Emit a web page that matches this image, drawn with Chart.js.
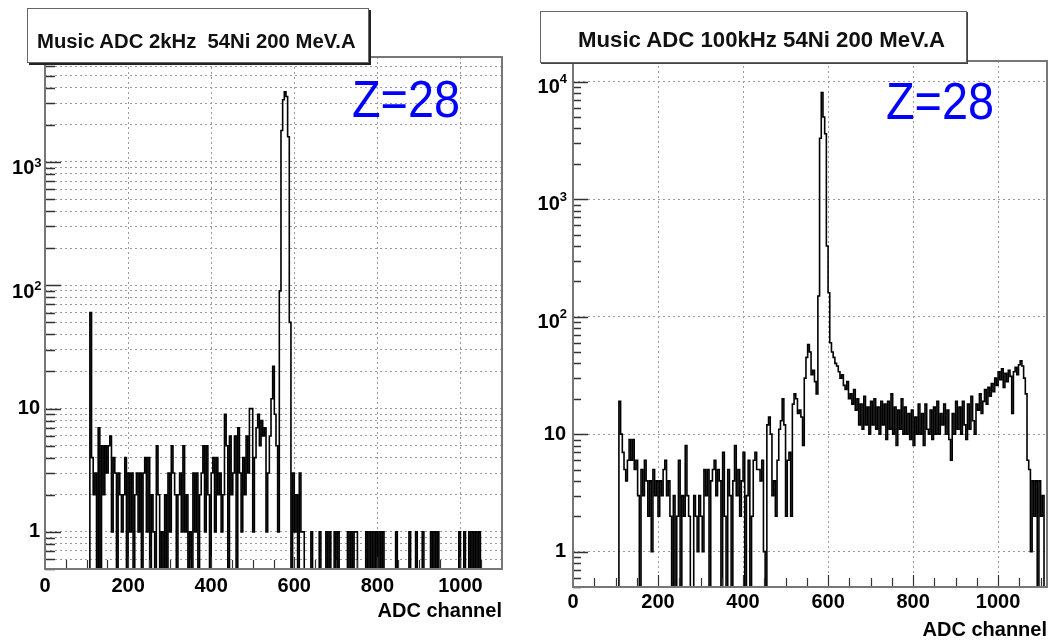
<!DOCTYPE html>
<html><head><meta charset="utf-8">
<script src="https://cdn.jsdelivr.net/npm/chart.js@4/dist/chart.umd.min.js"></script>
<style>
html,body{margin:0;padding:0;background:#fff;}
body{width:1048px;height:642px;position:relative;overflow:hidden;font-family:"Liberation Sans",Arial,Helvetica,sans-serif;}
canvas{position:absolute;top:0;}
#cL{left:0;} #cR{left:520px;}
.tbox{position:absolute;background:#fff;border:1px solid #666;box-sizing:border-box;z-index:2;}
.tbox span{position:absolute;font-weight:bold;color:#111;white-space:pre;line-height:22px;}
.z{position:absolute;color:#0000ff;font-size:52px;line-height:52px;transform-origin:0 0;transform:scaleX(0.9);z-index:2;white-space:pre;}
</style></head>
<body>
<canvas id="cL" width="520" height="642"></canvas>
<canvas id="cR" width="528" height="642"></canvas>
<div class="tbox" style="left:27px;top:8px;width:342px;height:55px;box-shadow:2px 2px 0 #222;"><span style="left:9px;top:21px;font-size:20.3px;">Music ADC 2kHz  54Ni 200 MeV.A</span></div>
<div class="tbox" style="left:540px;top:11px;width:427px;height:52px;box-shadow:1px 1px 0 #444;"><span style="left:37px;top:17px;font-size:22.2px;">Music ADC 100kHz 54Ni 200 MeV.A</span></div>
<div class="z" style="left:352px;top:73px;">Z=28</div>
<div class="z" style="left:886px;top:75px;">Z=28</div>
<script>
// ---------------- data ----------------
const BIN_WIDTH = 4;                 // ADC channels per bin
const X_TICKS = [0, 200, 400, 600, 800, 1000];
const AXIS_TITLE = 'ADC channel';

// 2 kHz spectrum: counts per 4-channel bin, starting at channel 112
const leftStart = 112;
const leftCounts = [
  60,4,2,3,0,7,0,5,2,5,          // 112-148
  3,5,6,1,4,3,0,3,2,1,           // 152-188
  2,4,0,3,1,3,0,2,3,1,           // 192-228
  3,0,3,4,1,4,0,2,1,0,           // 232-268
  5,2,0,1,0,2,0,3,1,5,           // 272-308
  3,2,0,2,3,1,5,1,2,0,           // 312-348
  1,0,3,1,3,0,2,3,5,1,           // 352-388
  5,2,0,3,4,1,4,2,3,1,           // 392-428
  2,9,5,0,6,2,3,6,0,7,           // 432-468
  3,1,4,2,6,3,10,10,1,4,         // 472-508
  7,9,5,8,6,7,1,3,6,12,          // 512-548
  22,9,5,1,90,1800,3200,3700,3400,1600, // 552-588
  50,0,3,1,2,0,3,1,1,0           // 592-628
];
// 2 kHz spectrum: isolated single-count bins above channel 640
const leftSingleCounts = [644,664,680,688,700,708,732,740,748,752,776,784,792,800,808,816,848,880,896,912,932,940,948,1000,1012,1024,1032,1040,1048];

// 100 kHz spectrum: counts per 4-channel bin, starting at channel 112
const rightStart = 112;
const rightCounts = [
  19,10,7,5,4,6,9,6,9,5,         // 112-148
  6,3,0,5,3,6,4,2,4,1,           // 152-188
  5,3,4,2,4,3,5,6,3,4,           // 192-228
  2,0,3,0,2,6,0,3,2,8,           // 232-268
  3,2,0,0,3,2,1,3,2,1,           // 272-308
  5,3,5,0,4,5,6,3,5,4,           // 312-348
  0,7,2,0,5,3,0,4,8,3,           // 352-388
  5,2,4,7,0,3,6,0,2,6,           // 392-428
  7,5,5,4,6,1,0,12,14,10,        // 432-468
  3,4,2,6,11,13,20,12,2,6,       // 472-508
  7,2,18,22,20,15,16,14,8,30,    // 512-548
  45,58,50,32,35,28,22,150,3300,8100, // 552-588
  5000,3600,400,160,60,50,45,40,38,34, // 592-628
  30,32,26,24,28,20,22,18,24,16, // 632-668
  20,12,18,11,21,12,17,10,19,12, // 672-708
  20,11,17,10,19,12,18,9,19,11,  // 712-748
  22,10,17,8,16,11,20,10,17,10,  // 752-788
  15,9,16,8,14,10,18,10,15,8,    // 792-828
  18,11,10,16,9,17,10,19,10,15,  // 832-868
  12,18,10,16,9,6,15,10,19,11,   // 872-908
  17,10,19,12,9,18,11,21,13,10,  // 912-948
  18,16,22,15,19,24,18,25,21,27, // 952-988
  23,30,26,34,29,36,25,33,28,35, // 992-1028
  31,15,34,37,32,39,42,38,30,22, // 1032-1068
  6,5,1,4,2,4,0,4,2,3,           // 1072-1108
  0                              // 1112
];

// ---------------- helpers ----------------
const FONT = '"Liberation Sans", Arial, Helvetica, sans-serif';
const GRID_COLOR = '#9a9a9a';
const ZERO_FLOOR = 0.1; // empty bins drawn below the visible range (clipped)

function buildHist(start, counts, singles, xMax) {
  const pts = [];
  for (let ch = 0; ch < xMax; ch += BIN_WIDTH) {
    let v = 0;
    const i = (ch - start) / BIN_WIDTH;
    if (i >= 0 && i < counts.length) v = counts[i];
    if (singles && singles.includes(ch)) v = 1;
    pts.push({x: ch, y: v > 0 ? v : ZERO_FLOOR});
  }
  pts.push({x: xMax, y: pts[pts.length - 1].y});
  return pts;
}
function isDecade(v) { const l = Math.log10(v); return Math.abs(l - Math.round(l)) < 1e-9; }
function logTicks(min, max) {
  const out = [];
  const lo = Math.floor(Math.log10(min)), hi = Math.ceil(Math.log10(max));
  for (let e = lo; e <= hi; e++) for (let m = 1; m <= 9; m++) {
    const v = m * Math.pow(10, e);
    if (v >= min * 0.9999 && v <= max * 1.0001) out.push(v);
  }
  return out;
}

const framePlugin = {
  id: 'frame',
  afterDatasetsDraw(chart, args, o) {
    const {ctx, chartArea: a, scales: {x, y}} = chart;
    ctx.save();
    ctx.strokeStyle = '#333';
    ctx.lineWidth = 1.5;
    logTicks(y.min, y.max).forEach(v => {
      const py = Math.round(y.getPixelForValue(v)) + 0.5;
      const len = isDecade(v) ? o.yMajor : o.yMinor;
      ctx.beginPath(); ctx.moveTo(a.left, py); ctx.lineTo(a.left + len, py); ctx.stroke();
    });
    ctx.lineWidth = 1.2;
    for (let v = 50; v < x.max; v += 50) {
      const px = Math.round(x.getPixelForValue(v)) + 0.5;
      const len = v % 200 === 0 ? o.xMajor : o.xMinor;
      ctx.beginPath(); ctx.moveTo(px, a.bottom); ctx.lineTo(px, a.bottom - len); ctx.stroke();
    }
    ctx.strokeStyle = '#777';
    ctx.lineWidth = 2;
    ctx.strokeRect(a.left, a.top, a.right - a.left, a.bottom - a.top);
    ctx.fillStyle = '#000';
    ctx.textBaseline = 'middle';
    ctx.textAlign = 'right';
    const main = 'bold 20px ' + FONT, sup = 'bold 13px ' + FONT;
    const lo = Math.ceil(Math.log10(y.min)), hi = Math.floor(Math.log10(y.max));
    for (let e = lo; e <= hi; e++) {
      const py = y.getPixelForValue(Math.pow(10, e));
      if (e <= 1) {
        ctx.font = main;
        ctx.fillText(String(Math.pow(10, e)), a.left - o.gap, py);
      } else {
        ctx.font = sup;
        const s = String(e);
        ctx.fillText(s, a.left - o.supGap, py + o.supDy);
        const w = ctx.measureText(s).width;
        ctx.font = main;
        ctx.fillText('10', a.left - o.supGap - w, py + o.dy);
      }
    }
    ctx.restore();
  }
};

function makeChart(id, p) {
  return new Chart(document.getElementById(id), {
    type: 'line',
    data: { datasets: [{ data: p.points, borderColor: '#000', borderWidth: 1.6, pointRadius: 0,
                         stepped: 'after', fill: false, tension: 0 }] },
    options: {
      responsive: false, animation: false, devicePixelRatio: 1,
      layout: { padding: { top: p.padTop, right: p.padRight, left: 0, bottom: 0 } },
      plugins: { legend: { display: false }, tooltip: { enabled: false }, frame: p.frame },
      scales: {
        x: {
          type: 'linear', min: 0, max: p.xMax,
          afterBuildTicks: s => { s.ticks = X_TICKS.map(v => ({ value: v })); },
          afterFit: s => { s.height = p.xAxisH; },
          grid: { drawTicks: false, lineWidth: 1,
                  color: c => (c.tick && c.tick.value === 0) ? 'rgba(0,0,0,0)' : GRID_COLOR },
          border: { display: false, dash: [2, 3] },
          ticks: { autoSkip: false, maxRotation: 0, padding: p.xTickPad, color: '#000',
                   callback: v => String(v),
                   font: { family: FONT, size: 20, weight: 'bold' } },
          title: { display: true, text: AXIS_TITLE, align: 'end', color: '#000',
                   font: { family: FONT, size: 20, weight: 'bold' },
                   padding: { top: 0, bottom: p.titlePad } }
        },
        y: {
          type: 'logarithmic', min: p.yMin, max: p.yMax,
          afterBuildTicks: s => { s.ticks = logTicks(s.min, s.max).map(v => ({ value: v })); },
          afterFit: s => { s.width = p.yAxisW; },
          grid: { drawTicks: false, lineWidth: 1,
                  color: c => (c.tick && (p.minorGrid || isDecade(c.tick.value))) ? GRID_COLOR : 'rgba(0,0,0,0)' },
          border: { display: false, dash: [2, 3] },
          ticks: { display: false }
        }
      }
    },
    plugins: [framePlugin]
  });
}

makeChart('cL', {
  points: buildHist(leftStart, leftCounts, leftSingleCounts, 1100),
  xMax: 1100, yMin: 0.5, yMax: 7100, minorGrid: true,
  padTop: 57, padRight: 18, yAxisW: 45, xAxisH: 73, xTickPad: 5, titlePad: 19,
  frame: { yMajor: 16, yMinor: 10, xMajor: 12, xMinor: 9, gap: 5, supGap: 3.5, dy: 7, supDy: 1 }
});
makeChart('cR', {
  points: buildHist(rightStart, rightCounts, null, 1115),
  xMax: 1115, yMin: 0.5, yMax: 15000, minorGrid: false,
  padTop: 61, padRight: 1, yAxisW: 53, xAxisH: 55, xTickPad: 3, titlePad: 0,
  frame: { yMajor: 15, yMinor: 8, xMajor: 12, xMinor: 9, gap: 7, supGap: 6, dy: 5.5, supDy: -2 }
});
</script>
</body></html>
